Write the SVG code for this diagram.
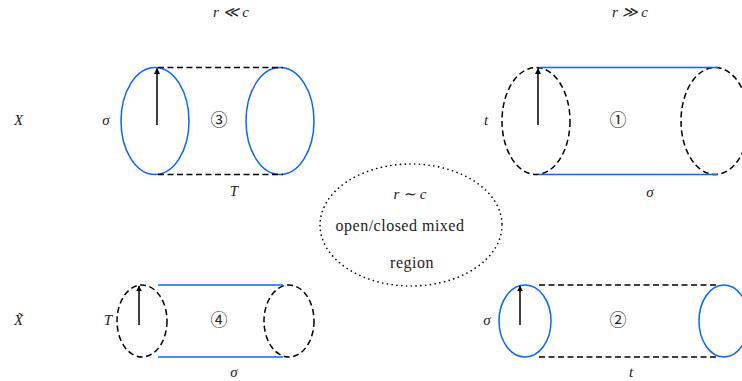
<svg xmlns="http://www.w3.org/2000/svg" width="742" height="381" viewBox="0 0 742 381">
<style>
.blue{fill:none;stroke:#0a66f5;stroke-width:1.5}
.dash{fill:none;stroke:#000;stroke-width:1.5;stroke-dasharray:6 3.5}
.dot{fill:none;stroke:#000;stroke-width:1.6;stroke-dasharray:0.1 4.7;stroke-linecap:round}
.arr{stroke:#000;stroke-width:1.5;fill:none;marker-end:url(#ah)}
.m{font-family:"Liberation Serif",serif;font-style:italic;font-size:15px;fill:#222;text-anchor:middle;dominant-baseline:central}
.t{font-family:"Liberation Serif",serif;font-size:16px;letter-spacing:0.5px;fill:#222;text-anchor:middle;dominant-baseline:central}
.c{font-family:"Noto Sans CJK JP","DejaVu Serif",sans-serif;font-size:17px;fill:#222;text-anchor:middle;dominant-baseline:central}
</style>
<defs>
<marker id="ah" viewBox="0 0 10 10" refX="9" refY="5" markerWidth="4" markerHeight="4.5" orient="auto" markerUnits="strokeWidth">
<path d="M0,0 L10,5 L0,10 Z" fill="#000"/>
</marker>
</defs>
<g id="labels">
<text class="m" x="231" y="12">r ≪ c</text>
<text class="m" x="630" y="12">r ≫ c</text>
<text class="m" x="18.5" y="120">X</text>
<text class="m" x="18.5" y="320">X̃</text>
</g>
<g id="node3">
<ellipse class="blue" cx="155" cy="121" rx="34" ry="53.5"/>
<ellipse class="blue" cx="280" cy="121" rx="34" ry="53.5"/>
<text class="m" x="106" y="120">σ</text>
<text class="c" x="219" y="118">③</text>
<text class="m" x="234" y="191">T</text>
</g>
<g id="node1">
<ellipse class="dash" cx="536" cy="121" rx="34" ry="53.5"/>
<ellipse class="dash" cx="715" cy="121" rx="34" ry="53.5"/>
<text class="m" x="486" y="120">t</text>
<text class="c" x="618" y="118">①</text>
<text class="m" x="650" y="192">σ</text>
</g>
<g id="node4">
<ellipse class="dash" cx="142" cy="321" rx="25" ry="36"/>
<ellipse class="dash" cx="289" cy="321" rx="25" ry="36"/>
<text class="m" x="108" y="320">T</text>
<text class="c" x="219" y="318">④</text>
<text class="m" x="234" y="372">σ</text>
</g>
<g id="node2">
<ellipse class="blue" cx="525" cy="321" rx="26" ry="36"/>
<ellipse class="blue" cx="724" cy="321" rx="25" ry="36"/>
<text class="m" x="487" y="320">σ</text>
<text class="c" x="618" y="318">②</text>
<text class="m" x="631" y="372">t</text>
</g>
<g id="mixed">
<ellipse class="dot" cx="411" cy="225" rx="91" ry="61"/>
<text class="m" x="410" y="194">r ∼ c</text>
<text class="t" x="400" y="225">open/closed mixed</text>
<text class="t" x="412" y="262">region</text>
</g>
<g id="connectors">
<line class="dash" x1="158" y1="67.5" x2="283" y2="67.5"/>
<line class="dash" x1="158" y1="174.5" x2="283" y2="174.5"/>
<line class="blue" x1="539" y1="67.5" x2="718" y2="67.5"/>
<line class="blue" x1="539" y1="174.5" x2="718" y2="174.5"/>
<line class="blue" x1="158" y1="285" x2="283" y2="285"/>
<line class="blue" x1="158" y1="357" x2="283" y2="357"/>
<line class="dash" x1="539" y1="285" x2="718" y2="285"/>
<line class="dash" x1="539" y1="357" x2="718" y2="357"/>
<line class="arr" x1="157" y1="125" x2="157" y2="68.5"/>
<line class="arr" x1="538" y1="125" x2="538" y2="68.5"/>
<line class="arr" x1="139" y1="325" x2="139" y2="286"/>
<line class="arr" x1="520" y1="325" x2="520" y2="286"/>
</g>
</svg>
